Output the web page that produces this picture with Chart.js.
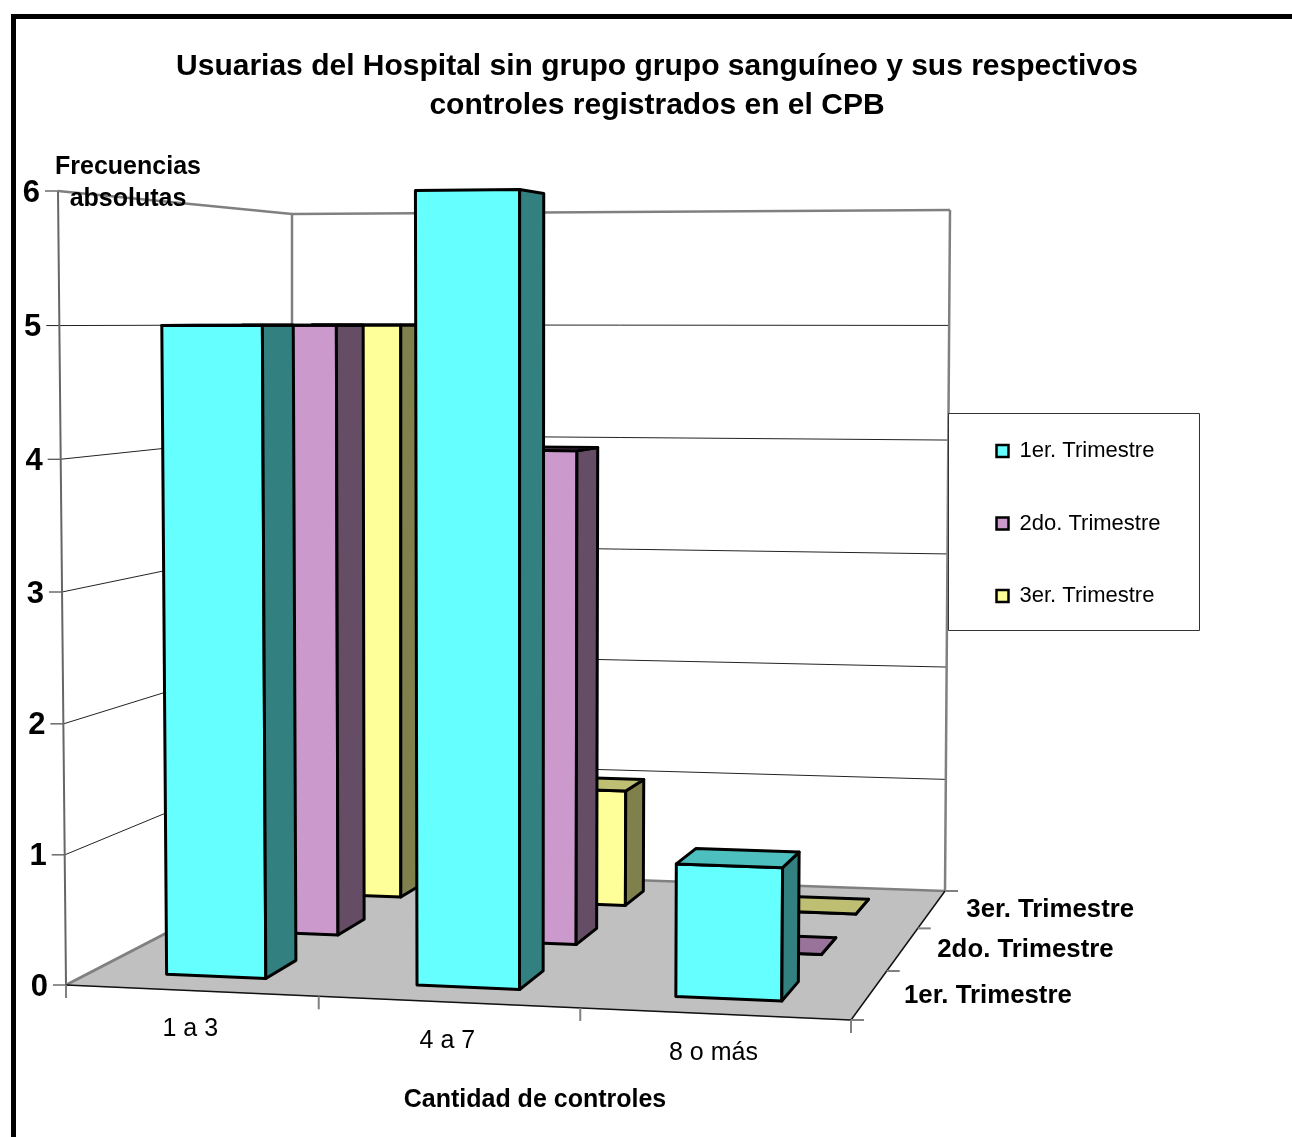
<!DOCTYPE html>
<html>
<head>
<meta charset="utf-8">
<title>Usuarias del Hospital</title>
<script src="https://cdn.jsdelivr.net/npm/chart.js@4"></script>
<style>
  html, body { margin: 0; padding: 0; background: #fff; overflow: hidden; }
  #wrap { position: relative; width: 1292px; height: 1137px; }
  #frame { position: absolute; left: 11px; top: 14px; right: 0; bottom: 0; border-left: 5px solid #000; border-top: 5px solid #000; pointer-events: none; }
</style>
</head>
<body>
<div id="wrap">
  <canvas id="chart" width="1292" height="1137"></canvas>
  <div id="frame"></div>
</div>
<script>
const categories = ['1 a 3', '4 a 7', '8 o más'];
const seriesNames = ['1er. Trimestre', '2do. Trimestre', '3er. Trimestre'];
const trimestre1 = [5, 6, 1];
const trimestre2 = [5, 4, 0];
const trimestre3 = [5, 1, 0];
const valueTicks = [0, 1, 2, 3, 4, 5, 6];
const titleLines = ['Usuarias del Hospital sin grupo grupo sanguíneo y sus respectivos', 'controles registrados en el CPB'];
const yTitleLines = ['Frecuencias', 'absolutas'];
const xTitle = 'Cantidad de controles';

const FONT = '"Liberation Sans", Arial, sans-serif';

// box corners on screen, f/b = front/back, l/r = left/right, b/t = bottom/top
const box = {
    flb: [66, 985], frb: [851, 1020], blb: [292, 868], brb: [945, 891],
    flt: [58, 191], frt: [857, 183], blt: [292, 214], brt: [950, 210]
};

// slight foreshortening along each axis
function warpU(u, W) { return u / (1 + (0.053 - 0.016 * W) * (1 - u)); }
function warpV(v) { return 0.98 * v / (1 - 0.02 * v); }
function warpW(w) { return 1.226 * w / (1 + 0.226 * w); }

function mix(a, b, t) { return [a[0] + (b[0] - a[0]) * t, a[1] + (b[1] - a[1]) * t]; }

function project(u, v, w) {
    const W = warpW(w), U = warpU(u, W), V = warpV(v);
    const bottom = mix(mix(box.flb, box.frb, U), mix(box.blb, box.brb, U), W);
    const top = mix(mix(box.flt, box.frt, U), mix(box.blt, box.brt, U), W);
    return mix(bottom, top, V);
}

function norm(chart) {
    const x = chart.scales.x, y = chart.scales.y;
    return {
        u: px => (px - x.left) / (x.right - x.left),
        v: value => (y.bottom - y.getPixelForValue(value)) / (y.bottom - y.top)
    };
}

function poly(ctx, pts, fill) {
    ctx.beginPath();
    pts.forEach((p, i) => i ? ctx.lineTo(p[0], p[1]) : ctx.moveTo(p[0], p[1]));
    ctx.closePath();
    if (fill) {
        ctx.fillStyle = fill;
        ctx.fill();
    }
    ctx.stroke();
}

function segment(ctx, a, b, color, width) {
    ctx.strokeStyle = color;
    ctx.lineWidth = width;
    ctx.beginPath();
    ctx.moveTo(a[0], a[1]);
    ctx.lineTo(b[0], b[1]);
    ctx.stroke();
}

function text(ctx, str, x, y, font, align) {
    ctx.font = font;
    ctx.fillStyle = '#000';
    ctx.textAlign = align;
    ctx.textBaseline = 'middle';
    ctx.fillText(str, x, y);
}

// walls, floor, grid and the legend background, everything behind the datasets
const wallsPlugin = {
    id: 'walls',
    beforeDraw(chart) {
        const ctx = chart.ctx;
        const { v: toV } = norm(chart);
        const x = chart.scales.x;
        ctx.save();
        ctx.lineJoin = 'round';

        ctx.fillStyle = '#C0C0C0';
        ctx.strokeStyle = '#C0C0C0';
        ctx.lineWidth = 1;
        poly(ctx, [project(0, 0, 0), project(1, 0, 0), project(1, 0, 1), project(0, 0, 1)], '#C0C0C0');

        valueTicks.forEach(tick => {
            const v = toV(tick);
            const a = project(0, v, 0), b = project(0, v, 1), c = project(1, v, 1);
            if (tick > 0 && tick < 6) {
                segment(ctx, a, b, '#222', 1);
                segment(ctx, b, c, '#222', 1);
            }
            segment(ctx, [a[0] - 13, a[1]], a, '#222', 1);
        });

        const gray = '#808080';
        segment(ctx, project(0, 0, 0), project(0, 1, 0), '#666', 2);
        segment(ctx, project(0, 0, 1), project(0, 1, 1), gray, 2.5);
        segment(ctx, project(1, 0, 1), project(1, 1, 1), gray, 2.5);
        segment(ctx, project(0, 1, 0), project(0, 1, 1), gray, 2.5);
        segment(ctx, project(0, 1, 1), project(1, 1, 1), gray, 2.5);
        segment(ctx, project(0, 0, 0), project(0, 0, 1), gray, 3);
        segment(ctx, project(0, 0, 1), project(1, 0, 1), gray, 2.5);
        segment(ctx, project(0, 0, 0), project(1, 0, 0), '#111', 1.5);
        segment(ctx, project(1, 0, 0), project(1, 0, 1), '#111', 1.5);

        for (let i = 0; i <= categories.length; i++) {
            const p = project(i / categories.length, 0, 0);
            segment(ctx, p, [p[0], p[1] + 13], gray, 2);
        }
        for (let i = 0; i <= seriesNames.length; i++) {
            const p = project(1, 0, i / seriesNames.length);
            segment(ctx, p, [p[0] + 13, p[1]], gray, 2);
        }

        valueTicks.forEach(tick => {
            const p = project(0, toV(tick), 0);
            text(ctx, String(tick), p[0] - 18, p[1] + 2, 'bold 31px ' + FONT, 'right');
        });
        categories.forEach((label, i) => {
            const p = project((x.getPixelForValue(i) - x.left) / (x.right - x.left), 0, 0);
            text(ctx, label, p[0] - 1, p[1] + 39, '25px ' + FONT, 'center');
        });
        seriesNames.forEach((label, i) => {
            const p = project(1, 0, (i + 0.5) / seriesNames.length);
            text(ctx, label, p[0] + 34.5, p[1] + 1, 'bold 25.8px ' + FONT, 'left');
        });
        text(ctx, xTitle, 535, 1100, 'bold 25px ' + FONT, 'center');

        // legend background
        ctx.fillStyle = '#fff';
        ctx.strokeStyle = '#333';
        ctx.lineWidth = 1;
        ctx.fillRect(948.5, 413.5, 251, 217);
        ctx.strokeRect(948.5, 413.5, 251, 217);
        ctx.restore();
    },
    afterLayout(chart) {
        const legend = chart.legend;
        legend.left = 946;
        legend.right = legend.left + 260;
        legend.top = 389.5;
        legend.bottom = legend.top + 320;
    },
    afterDraw(chart) {
        const ctx = chart.ctx;
        ctx.save();
        text(ctx, yTitleLines[0], 128, 167, 'bold 25px ' + FONT, 'center');
        text(ctx, yTitleLines[1], 128, 199, 'bold 25px ' + FONT, 'center');
        ctx.restore();
    }
};

// the bars keep their place from the chart's scales, here they only get their depth
const bars3dPlugin = {
    id: 'bars3d',
    beforeDatasetDraw(chart, args) {
        const ctx = chart.ctx;
        const ds = chart.data.datasets[args.index];
        const { x: xScale, y: yScale } = chart.scales;
        const rows = chart.data.datasets.length;
        const half = ds.barPercentage * ds.categoryPercentage / 2 / rows;
        const mid = (args.index + 0.5) / rows;
        const w0 = mid - half, w1 = mid + half;
        ctx.save();
        ctx.strokeStyle = '#000';
        ctx.lineWidth = 3;
        ctx.lineJoin = 'round';
        args.meta.data.forEach(el => {
            const u0 = (el.x - el.width / 2 - xScale.left) / (xScale.right - xScale.left);
            const u1 = (el.x + el.width / 2 - xScale.left) / (xScale.right - xScale.left);
            const vTop = (yScale.bottom - el.y) / (yScale.bottom - yScale.top);
            const vBase = (yScale.bottom - el.base) / (yScale.bottom - yScale.top);
            poly(ctx, [project(u0, vBase, w0), project(u1, vBase, w0), project(u1, vTop, w0), project(u0, vTop, w0)], ds.backgroundColor);
            poly(ctx, [project(u1, vBase, w0), project(u1, vBase, w1), project(u1, vTop, w1), project(u1, vTop, w0)], ds.sideColor);
            // the top face only shows when its back edge sits higher on screen
            if (project(u1, vTop, w1)[1] < project(u1, vTop, w0)[1]) {
                poly(ctx, [project(u0, vTop, w0), project(u1, vTop, w0), project(u1, vTop, w1), project(u0, vTop, w1)], ds.topColor);
            }
        });
        ctx.restore();
        return false;
    }
};

new Chart(document.getElementById('chart').getContext('2d'), {
    type: 'bar',
    data: {
        labels: categories,
        datasets: [
            { label: seriesNames[0], data: trimestre1, backgroundColor: '#66FFFF', sideColor: '#338080', topColor: '#4DBFBF', borderColor: '#000', borderWidth: 2.5, grouped: false, barPercentage: 0.5, categoryPercentage: 0.8 },
            { label: seriesNames[1], data: trimestre2, backgroundColor: '#CC99CC', sideColor: '#664D66', topColor: '#997399', borderColor: '#000', borderWidth: 2.5, grouped: false, barPercentage: 0.5, categoryPercentage: 0.8 },
            { label: seriesNames[2], data: trimestre3, backgroundColor: '#FFFF99', sideColor: '#80804D', topColor: '#BFBF73', borderColor: '#000', borderWidth: 2.5, grouped: false, barPercentage: 0.5, categoryPercentage: 0.8 }
        ]
    },
    plugins: [wallsPlugin, bars3dPlugin],
    options: {
        responsive: false,
        animation: false,
        events: [],
        layout: { padding: { left: 22 } },
        scales: {
            x: { display: false },
            y: { display: false, min: 0, max: 6, ticks: { stepSize: 1 } }
        },
        plugins: {
            tooltip: { enabled: false },
            title: {
                display: true,
                text: titleLines,
                color: '#000',
                font: { family: FONT, size: 30, weight: 'bold', lineHeight: 1.3 },
                padding: { top: 47.5, bottom: 20 }
            },
            legend: {
                display: true,
                position: 'right',
                align: 'start',
                labels: { color: '#000', font: { family: FONT, size: 22 }, boxWidth: 12, boxHeight: 12, padding: 50.5 }
            }
        }
    }
});
</script>
</body>
</html>
